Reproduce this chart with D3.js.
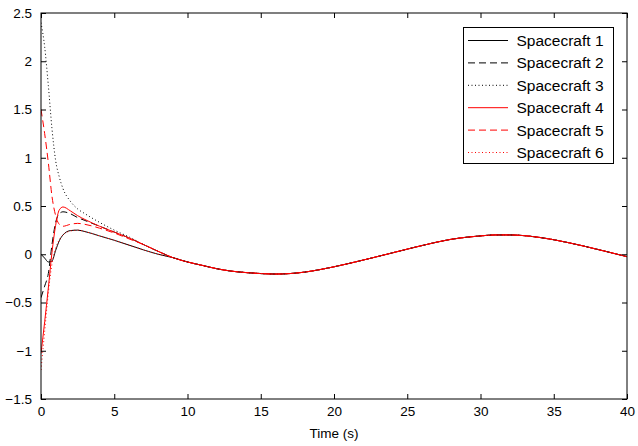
<!DOCTYPE html>
<html>
<head>
<meta charset="utf-8">
<script src="https://d3js.org/d3.v7.min.js"></script>
<style>
  body { margin: 0; background: #fff; }
  svg { font-family: "Liberation Sans", Arial, sans-serif; }
  .axis path, .axis line { stroke: #000; }
  .axis text { font-size: 13.5px; fill: #000; }
</style>
</head>
<body>
<svg id="chart" width="638" height="446"></svg>
<script>
// sample times (s)
const times = [0, 0.25, 0.5, 0.75, 1, 1.25, 1.5, 2, 2.5, 3, 4, 5, 6, 7, 8,
  9, 10, 11, 12, 13, 14, 15, 16, 17, 18, 19, 20, 22, 24, 26, 28, 30, 31, 32, 34, 36, 38, 40];

// common tail, t = 9 .. 40
const tail = [-0.035, -0.08, -0.115, -0.15, -0.175, -0.19, -0.2, -0.205, -0.2, -0.185, -0.16,
  -0.13, -0.06, 0.015, 0.09, 0.155, 0.19, 0.2, 0.2, 0.175, 0.12, 0.05, -0.025];

// transient part, t = 0 .. 8
const sc1 = [0, -0.04, -0.08, -0.07, 0.04, 0.14, 0.2, 0.245, 0.25, 0.235, 0.19, 0.145, 0.095, 0.045, 0.0];
const sc2 = [-0.45, -0.33, -0.2, 0.1, 0.33, 0.42, 0.44, 0.42, 0.38, 0.35, 0.29, 0.23, 0.17, 0.1, 0.03];
const sc3 = [2.4, 2.15, 1.75, 1.3, 0.97, 0.8, 0.68, 0.55, 0.47, 0.42, 0.33, 0.25, 0.18, 0.1, 0.03];
const sc4 = [-1.03, -0.7, -0.35, 0.02, 0.3, 0.46, 0.49, 0.45, 0.4, 0.36, 0.29, 0.23, 0.17, 0.1, 0.03];
const sc5 = [1.5, 1.25, 0.95, 0.6, 0.4, 0.31, 0.29, 0.31, 0.32, 0.31, 0.27, 0.22, 0.16, 0.1, 0.03];
const sc6 = [-1.2, -0.8, -0.4, -0.1, 0.06, 0.15, 0.2, 0.24, 0.25, 0.235, 0.19, 0.145, 0.095, 0.045, 0.0];

const names = ["Spacecraft 1", "Spacecraft 2", "Spacecraft 3", "Spacecraft 4", "Spacecraft 5", "Spacecraft 6"];
const colors = ["#000", "#000", "#000", "#ff0000", "#ff0000", "#ff0000"];
const dashes = ["none", "7,4", "1,2.5", "none", "7,4", "1,2.5"];

const xTicks = [0, 5, 10, 15, 20, 25, 30, 35, 40];
const yTicks = [-1.5, -1, -0.5, 0, 0.5, 1, 1.5, 2, 2.5];

const series = [sc1, sc2, sc3, sc4, sc5, sc6].map((s, i) => ({
  name: names[i],
  color: colors[i],
  dash: dashes[i],
  values: s.concat(tail).map((v, j) => ({ t: times[j], v: v })),
}));

const margin = { top: 13, right: 11, bottom: 47, left: 41 };
const svg = d3.select("#chart");
const width = 638 - margin.left - margin.right;
const height = 446 - margin.top - margin.bottom;

const g = svg.append("g")
  .attr("transform", "translate(" + margin.left + "," + margin.top + ")");

const x = d3.scaleLinear().domain([0, 40]).range([0, width]);
const y = d3.scaleLinear().domain([-1.5, 2.5]).range([height, 0]);

const line = d3.line()
  .x((d) => x(d.t))
  .y((d) => y(d.v))
  .curve(d3.curveMonotoneX);

g.append("clipPath").attr("id", "clip")
  .append("rect").attr("width", width).attr("height", height);

g.append("g").attr("clip-path", "url(#clip)")
  .selectAll("path")
  .data(series)
  .enter()
  .append("path")
  .attr("fill", "none")
  .attr("stroke", (d) => d.color)
  .attr("stroke-width", 1)
  .attr("stroke-dasharray", (d) => d.dash)
  .attr("d", (d) => line(d.values));

// axes, ticks pointing inward
const fmt = (d) => d3.format("")(d);
g.append("g").attr("class", "axis")
  .attr("transform", "translate(0," + height + ")")
  .call(d3.axisBottom(x).tickValues(xTicks).tickSize(-5).tickPadding(7).tickFormat(fmt))
  .call((a) => a.select(".domain").remove());
g.append("g").attr("class", "axis")
  .call(d3.axisTop(x).tickValues(xTicks).tickSize(-5).tickFormat(""))
  .call((a) => a.select(".domain").remove());
g.append("g").attr("class", "axis")
  .call(d3.axisLeft(y).tickValues(yTicks).tickSize(-5).tickPadding(9).tickFormat(fmt))
  .call((a) => a.select(".domain").remove());
g.append("g").attr("class", "axis")
  .attr("transform", "translate(" + width + ",0)")
  .call(d3.axisRight(y).tickValues(yTicks).tickSize(-5).tickFormat(""))
  .call((a) => a.select(".domain").remove());

g.append("rect")
  .attr("width", width)
  .attr("height", height)
  .attr("fill", "none")
  .attr("stroke", "#000")
  .attr("stroke-width", 1);

g.append("text")
  .attr("x", width / 2)
  .attr("y", height + 39)
  .attr("text-anchor", "middle")
  .attr("font-size", "13.5px")
  .text("Time (s)");

// legend
const legend = svg.append("g").attr("transform", "translate(463.5,27.5)");
legend.append("rect")
  .attr("width", 150)
  .attr("height", 136)
  .attr("fill", "#fff")
  .attr("stroke", "#000");

const rows = legend.selectAll("g.row")
  .data(series)
  .enter()
  .append("g")
  .attr("class", "row")
  .attr("transform", (d, i) => "translate(0," + (13 + i * 22.4) + ")");

rows.append("line")
  .attr("x1", 4.5)
  .attr("x2", 44.5)
  .attr("stroke", (d) => d.color)
  .attr("stroke-dasharray", (d) => d.dash);

rows.append("text")
  .attr("x", 53)
  .attr("dy", "0.35em")
  .attr("font-size", "15.5px")
  .text((d) => d.name);
</script>
</body>
</html>
